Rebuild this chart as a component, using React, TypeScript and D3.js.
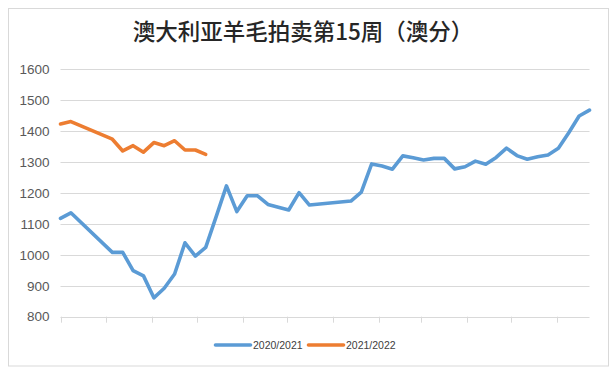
import * as d3 from 'd3';

// season week index (0 = first week of July) and price in AU cents
const weeks2021 = [0, 1, 5, 6, 7, 8, 9, 10, 11, 12, 13, 14, 15, 16, 17, 18, 19, 20, 21, 22, 23, 24, 28, 29, 30, 31, 32, 33, 34, 35, 36, 37, 38, 39, 40, 41, 42, 43, 44, 45, 46, 47, 48, 49, 50, 51];
const values2021 = [1118, 1136, 1008, 1008, 949, 932, 861, 892, 938, 1039, 996, 1024, 1123, 1223, 1140, 1191, 1191, 1163, 1154, 1145, 1201, 1161, 1174, 1203, 1294, 1287, 1277, 1320, 1314, 1307, 1312, 1312, 1278, 1285, 1303, 1293, 1315, 1345, 1321, 1309, 1317, 1323, 1345, 1395, 1449, 1468];

const weeks2122 = [0, 1, 5, 6, 7, 8, 9, 10, 11, 12, 13, 14];
const values2122 = [1423, 1431, 1374, 1336, 1353, 1332, 1363, 1353, 1369, 1339, 1339, 1325];

const seriesNames = ['2020/2021', '2021/2022'];
const seriesColors = ['#5b9bd5', '#ed7d31'];
const title = '澳大利亚羊毛拍卖第15周（澳分）';

const WIDTH = 616;
const HEIGHT = 372;
const PLOT = { left: 60.5, right: 589.5, top: 69.3, bottom: 316.7 };
const START = new Date(Date.UTC(2020, 6, 1));
const LAST_WEEK = 51;

const weekDate = (w: number) => d3.utcDay.offset(START, w * 7);

type Pt = { week: number; value: number };

export default function App() {
  const end = weekDate(LAST_WEEK);
  const x = d3.scaleUtc().domain([START, end]).range([PLOT.left, PLOT.right]);
  const y = d3.scaleLinear().domain([800, 1600]).range([PLOT.bottom, PLOT.top]);

  const line = d3
    .line<Pt>()
    .x((d) => x(weekDate(d.week)))
    .y((d) => y(d.value));

  const series: Pt[][] = [
    weeks2021.map((w, i) => ({ week: w, value: values2021[i] })),
    weeks2122.map((w, i) => ({ week: w, value: values2122[i] })),
  ];

  const monthTicks = d3.utcMonth.range(START, d3.utcDay.offset(end, 1));
  const yTicks = y.ticks(8);

  const legendX = [215.5, 308.5];

  return (
    <svg
      width={WIDTH}
      height={HEIGHT}
      style={{ position: 'absolute', left: 0, top: 0, background: '#fff' }}
    >
      <rect x={8.5} y={8.5} width={600} height={357.5} fill="#fff" stroke="#d9d9d9" strokeWidth={1} />

      <text
        x={303}
        y={39.5}
        textAnchor="middle"
        fontFamily="'Noto Sans CJK SC', sans-serif"
        fontSize={22.5}
        fontWeight={500}
        fill="#262626"
      >
        {title}
      </text>

      {/* gridlines + y labels */}
      {yTicks.map((t) => (
        <g key={t}>
          <line
            x1={PLOT.left}
            x2={PLOT.right}
            y1={Math.round(y(t)) + 0.5}
            y2={Math.round(y(t)) + 0.5}
            stroke="#d9d9d9"
            strokeWidth={1}
          />
          <text
            x={49.5}
            y={y(t)}
            dy="0.35em"
            textAnchor="end"
            fontFamily="'Liberation Sans', Arial, sans-serif"
            fontSize={13.5}
            fill="#595959"
          >
            {t}
          </text>
        </g>
      ))}

      {/* month tick marks */}
      {monthTicks.map((d) => (
        <line
          key={d.toISOString()}
          x1={Math.round(x(d)) + 0.5}
          x2={Math.round(x(d)) + 0.5}
          y1={y(800)}
          y2={y(800) + 6}
          stroke="#d9d9d9"
          strokeWidth={1}
        />
      ))}

      {series.map((pts, i) => (
        <path
          key={seriesNames[i]}
          d={line(pts) ?? ''}
          fill="none"
          stroke={seriesColors[i]}
          strokeWidth={3.6}
          strokeLinejoin="round"
          strokeLinecap="round"
        />
      ))}

      {/* legend */}
      {seriesNames.map((name, i) => (
        <g key={name}>
          <line
            x1={legendX[i]}
            x2={legendX[i] + 35}
            y1={345}
            y2={345}
            stroke={seriesColors[i]}
            strokeWidth={3.6}
            strokeLinecap="round"
          />
          <text
            x={legendX[i] + 37.5}
            y={345}
            dy="0.35em"
            fontFamily="'Liberation Sans', Arial, sans-serif"
            fontSize={10.5}
            fill="#404040"
          >
            {name}
          </text>
        </g>
      ))}
    </svg>
  );
}
